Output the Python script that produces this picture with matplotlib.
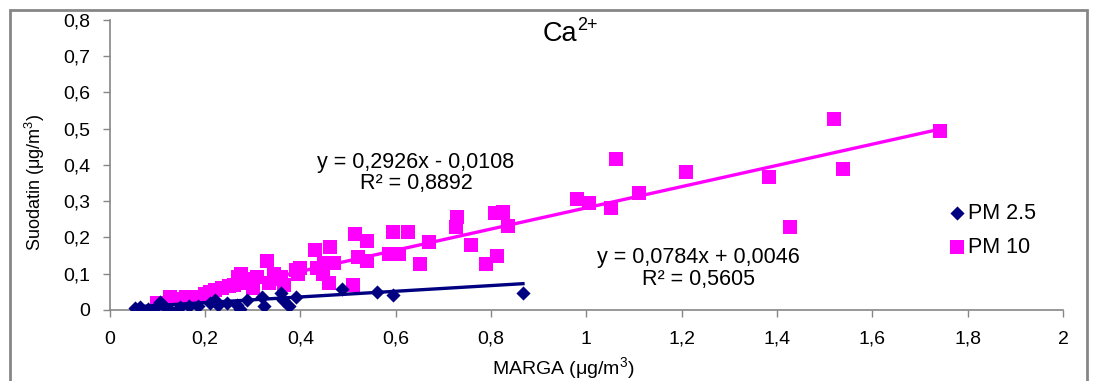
import numpy as np
import matplotlib
matplotlib.use('Agg')
import matplotlib.pyplot as plt
from matplotlib.patches import Rectangle
from matplotlib.ticker import FuncFormatter

plt.rcParams['font.family'] = ['Liberation Sans', 'DejaVu Sans']
plt.rcParams['mathtext.fontset'] = 'custom'
plt.rcParams['mathtext.rm'] = 'Liberation Sans'
plt.rcParams['mathtext.it'] = 'Liberation Sans'

# PM 2.5 : MARGA vs suodatin (ug/m3)
pm25_x = [0.053, 0.064, 0.080, 0.095, 0.105, 0.113, 0.127, 0.148, 0.166, 0.186,
          0.210, 0.221, 0.228, 0.245, 0.267, 0.273, 0.288, 0.319, 0.324, 0.360,
          0.364, 0.377, 0.390, 0.487, 0.561, 0.595, 0.867]
pm25_y = [0.005, 0.008, 0.004, 0.005, 0.022, 0.010, 0.000, 0.008, 0.010, 0.010,
          0.018, 0.028, 0.014, 0.020, 0.014, 0.003, 0.028, 0.036, 0.010, 0.047,
          0.028, 0.012, 0.036, 0.058, 0.050, 0.042, 0.047]

# PM 10
pm10_x = [0.100, 0.113, 0.127, 0.150, 0.160, 0.180, 0.200, 0.210, 0.220, 0.235,
          0.250, 0.260, 0.270, 0.275, 0.280, 0.290, 0.300, 0.310, 0.330, 0.335,
          0.345, 0.355, 0.360, 0.365, 0.390, 0.395, 0.400, 0.430, 0.435, 0.448,
          0.450, 0.460, 0.463, 0.470, 0.510, 0.515, 0.520, 0.540, 0.540, 0.585,
          0.595, 0.607, 0.626, 0.650, 0.670, 0.727, 0.729, 0.758, 0.790, 0.813,
          0.809, 0.826, 0.836, 0.981, 1.005, 1.052, 1.063, 1.111, 1.208, 1.384,
          1.428, 1.520, 1.539, 1.741]
pm10_y = [0.018, 0.020, 0.035, 0.030, 0.035, 0.036, 0.045, 0.050, 0.055, 0.060,
          0.065, 0.070, 0.090, 0.100, 0.075, 0.085, 0.060, 0.090, 0.135, 0.075,
          0.100, 0.085, 0.090, 0.070, 0.110, 0.100, 0.115, 0.165, 0.115, 0.100,
          0.130, 0.075, 0.175, 0.130, 0.070, 0.210, 0.145, 0.190, 0.135, 0.155,
          0.215, 0.155, 0.215, 0.127, 0.188, 0.229, 0.257, 0.179, 0.127, 0.149,
          0.268, 0.270, 0.232, 0.306, 0.295, 0.281, 0.416, 0.323, 0.381, 0.367,
          0.229, 0.527, 0.389, 0.494]

# trendlines as printed on the chart
fit25 = (0.0784, 0.0046, 0.5605)
fit10 = (0.2926, -0.0108, 0.8892)

pink = '#FF00FF'
navy = '#000080'
grey = '#868686'

fig = plt.figure(figsize=(10.94, 3.81), dpi=100)
ax = fig.add_axes([0.1003, 0.1864, 0.8714, 0.7612])

x10 = np.array([min(pm10_x), max(pm10_x)])
ax.plot(x10, fit10[0] * x10 + fit10[1], color=pink, lw=2.4, zorder=2)
ax.scatter(pm10_x, pm10_y, marker='s', s=88, color=pink, lw=0, zorder=3, label='PM 10')

x25 = np.array([min(pm25_x), max(pm25_x)])
ax.plot(x25, fit25[0] * x25 + fit25[1], color=navy, lw=2.4, zorder=4)
ax.scatter(pm25_x, pm25_y, marker='D', s=52, color=navy, lw=0, zorder=5, label='PM 2.5')

ax.set_xlim(0, 2)
ax.set_ylim(0, 0.8)
ax.set_xticks(np.arange(0, 2.01, 0.2))
ax.set_yticks(np.arange(0, 0.81, 0.1))
fmt = FuncFormatter(lambda v, p: ('%g' % round(v, 2)).replace('.', ','))
ax.xaxis.set_major_formatter(fmt)
ax.yaxis.set_major_formatter(fmt)
ax.tick_params(direction='out', length=5, width=1, color=grey, labelsize=14)
ax.tick_params(axis='y', pad=9)
ax.tick_params(axis='x', pad=10)
for s in ['top', 'right']:
    ax.spines[s].set_visible(False)
for s in ['left', 'bottom']:
    ax.spines[s].set_color(grey)
    ax.spines[s].set_linewidth(1.2)

fig.text(543 / 1094, 1 - 34 / 381, 'Ca', fontsize=19.5, ha='left', va='center')
fig.text(577 / 1094, 1 - 26 / 381, '2+', fontsize=13, ha='left', va='center')
fig.text(563 / 1094, 1 - 368 / 381, r'MARGA (μg/m$^3$)', fontsize=14, ha='center', va='center')
fig.text(35 / 1094, 1 - 182 / 381, r'Suodatin (μg/m$^3$)', fontsize=13, ha='center',
         va='center', rotation=90)

def eq(fit):
    sign = '+' if fit[1] >= 0 else '-'
    a = ('%.4f' % fit[0]).replace('.', ',')
    b = ('%.4f' % abs(fit[1])).replace('.', ',')
    r = ('%.4f' % fit[2]).replace('.', ',')
    return 'y = %sx %s %s' % (a, sign, b), 'R² = %s' % r

e10, r10 = eq(fit10)
ax.text(0.641, 0.406, e10, fontsize=15.5, ha='center', va='center')
ax.text(0.643, 0.350, r10, fontsize=15.5, ha='center', va='center')
e25, r25 = eq(fit25)
ax.text(1.235, 0.146, e25, fontsize=15.5, ha='center', va='center')
ax.text(1.235, 0.083, r25, fontsize=15.5, ha='center', va='center')

h, l = ax.get_legend_handles_labels()
ax.legend(h[::-1], l[::-1], loc='center left', bbox_to_anchor=(951 / 1094, 150.5 / 381),
          bbox_transform=fig.transFigure, frameon=False, fontsize=15.5, handlelength=0.55,
          handletextpad=0.25, labelspacing=0.6, borderpad=0, borderaxespad=0,
          scatterpoints=1)

fig.add_artist(Rectangle((10 / 1094, -0.1), 1077 / 1094, 1.1 - 10 / 381,
                         transform=fig.transFigure, fill=False, edgecolor=grey, lw=2))

plt.savefig('out.png', dpi=100)
plt.close()
